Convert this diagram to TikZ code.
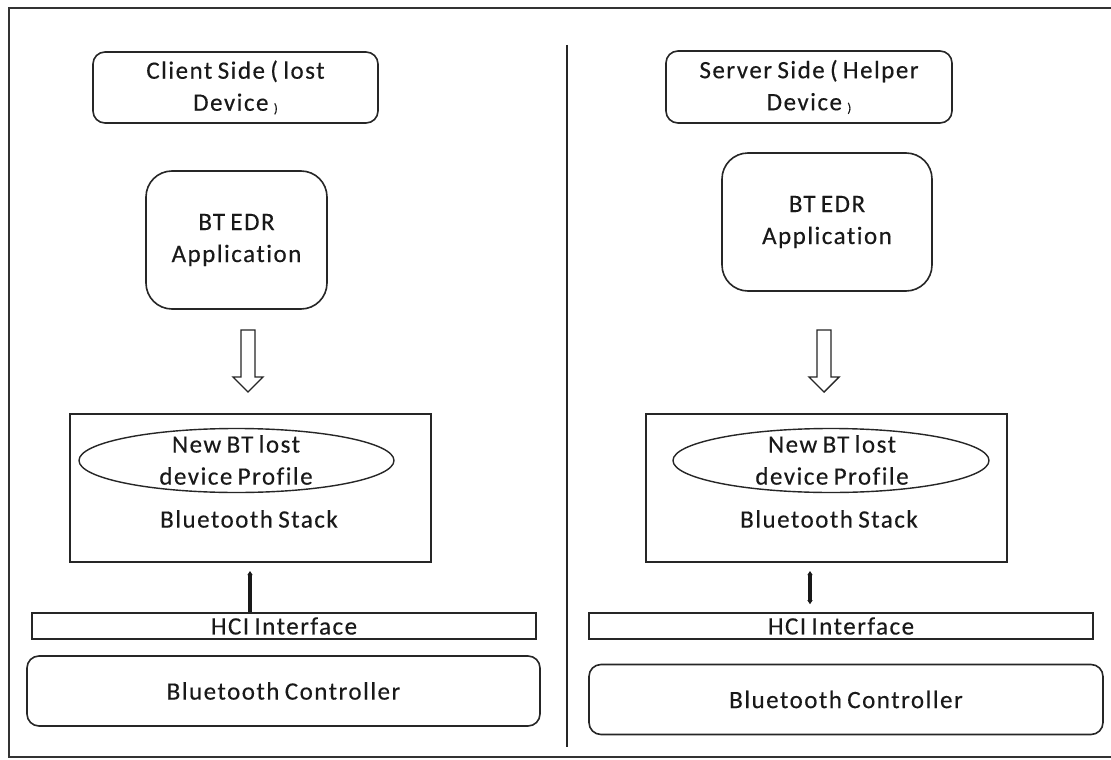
\documentclass[tikz,border=0pt]{standalone}
\usepackage{fontspec}
\setmainfont{Carlito}[LetterSpace=6,WordSpace=0.75,Ligatures={NoCommon},FakeBold=0.3]
\usetikzlibrary{arrows.meta,calc,shapes.geometric}

% small closing bracket as printed after "Device"
\newcommand{\smallclose}{\raisebox{-2pt}{\fontsize{13}{13}\selectfont )}}

\tikzset{tipmark/.tip={Triangle[width=5pt,length=4pt]}}

\begin{document}
\begin{tikzpicture}[x=1pt,y=-1pt,
  every node/.style={font=\fontsize{25}{32}\selectfont, align=center, inner sep=0pt, text=black!90},
  frameline/.style={draw=black!80, line width=2pt},
  plainbox/.style={draw=black!85, line width=1.6pt},
  roundbox/.style={plainbox, rounded corners=#1},
  profile/.style={draw=black!85, line width=1.4pt, ellipse},
  hollow/.style={draw=black!85, line width=1.4pt, fill=white, line join=miter},
  link/.style={draw=black!90, line width=3.5pt}
]
\useasboundingbox (0,0) rectangle (1111,760);
\fill[white] (0,0) rectangle (1111,760);

% outer frame, open on the right
\draw[frameline] (1115,8) -- (9,8) -- (9,757) -- (1115,757);
% divider between the two devices
\draw[plainbox] (567,45) -- (567,747);

% ---------------- client side ----------------
\node[roundbox=12, minimum width=285, minimum height=71] (client) at (235.5,87.5)
  {Client Side ( lost\\Device \smallclose};
\node[roundbox=26, minimum width=181, minimum height=138] (appL) at (236.5,240)
  {BT EDR\\Application};
\node[plainbox, minimum width=361, minimum height=148] (stackL) at (250.5,488) {};
\node[profile, minimum width=315, minimum height=64] (profL) at (236.5,460.5) {};
\node (profLtxt) at (236,460) {New BT lost\\device Profile};
\node (stackLtxt) at (249,519) {Bluetooth Stack};
\node[plainbox, minimum width=504, minimum height=26] (hciL) at (284,626) {HCI Interface};
\node[roundbox=12, minimum width=513, minimum height=70] (ctrlL) at (283.5,691) {Bluetooth Controller};

% hollow arrow from application to stack
\coordinate (arrL) at (248,330);
\draw[hollow] (arrL) ++(-7,0) -- ++(0,47) -- ++(-8,0) -- ++(15,15) -- ++(15,-15)
  -- ++(-8,0) -- ++(0,-47) -- cycle;
% stack to HCI
\coordinate (lnkL) at (250,571);
\draw[link, tipmark-] (lnkL) -- (lnkL |- hciL.north);

% ---------------- server side ----------------
\node[roundbox=12, minimum width=286, minimum height=72] (server) at (809,87)
  {Server Side ( Helper\\Device \smallclose};
\node[roundbox=26, minimum width=210, minimum height=138] (appR) at (827,222)
  {BT EDR\\Application};
\node[plainbox, minimum width=361, minimum height=148] (stackR) at (826.5,488) {};
\node[profile, minimum width=316, minimum height=64] (profR) at (831,460.5) {};
\node (profRtxt) at (832,460) {New BT lost\\device Profile};
\node (stackRtxt) at (829,519) {Bluetooth Stack};
\node[plainbox, minimum width=504, minimum height=26] (hciR) at (841,626) {HCI Interface};
\node[roundbox=12, minimum width=514, minimum height=70] (ctrlR) at (846,699.5) {Bluetooth Controller};

\coordinate (arrR) at (824,330);
\draw[hollow] (arrR) ++(-7,0) -- ++(0,47) -- ++(-8,0) -- ++(15,15) -- ++(15,-15)
  -- ++(-8,0) -- ++(0,-47) -- cycle;
\coordinate (lnkR) at (810,571);
\draw[link, tipmark-tipmark] (lnkR) -- ($(lnkR |- hciR.north)+(0,-8)$);
\end{tikzpicture}
\end{document}
